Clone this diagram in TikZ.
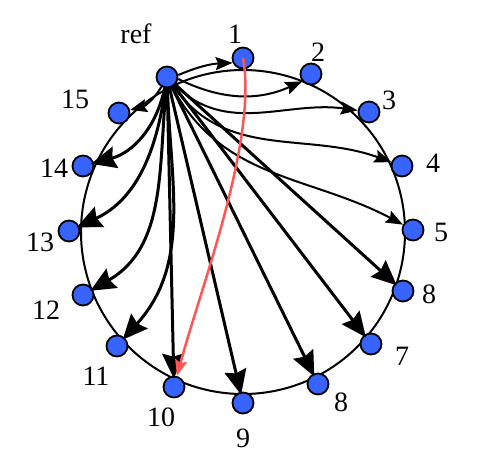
\documentclass[tikz,border=0pt]{standalone}
\usepackage{fontspec}
\setmainfont{Liberation Serif}
\usetikzlibrary{arrows.meta}
\definecolor{nodeblue}{RGB}{55,100,255}
\definecolor{edgered}{RGB}{255,85,85}
\begin{document}
\begin{tikzpicture}[x=1pt,y=1pt,
  vtx/.style={circle,draw=black,line width=1.8pt,fill=nodeblue,minimum size=21pt,inner sep=0pt},
  lab/.style={inner sep=0pt,font=\fontsize{28}{32}\selectfont},
  tedge/.style={line width=2pt,-{Stealth[length=17pt,width=13pt,inset=2.5pt]}},
  bedge/.style={line width=3pt,-{Stealth[length=25pt,width=22pt,inset=3pt]},shorten >=-3pt},
  redge/.style={line width=2.5pt,draw=edgered,-{Stealth[length=16pt,width=12pt,inset=2.5pt]}}
]
\useasboundingbox (0,0) rectangle (481,-464);
\draw[line width=2pt] (243,-232) circle (162);

\node[vtx] (ref) at (167,-77) {};
\node[vtx] (n1) at (243,-58) {};
\node[vtx] (n2) at (311,-74) {};
\node[vtx] (n3) at (369,-112) {};
\node[vtx] (n4) at (402,-166) {};
\node[vtx] (n5) at (413,-230) {};
\node[vtx] (n8a) at (403,-291) {};
\node[vtx] (n7) at (371,-344) {};
\node[vtx] (n8b) at (318,-384) {};
\node[vtx] (n9) at (243,-403) {};
\node[vtx] (n10) at (174,-387) {};
\node[vtx] (n11) at (117,-346) {};
\node[vtx] (n12) at (83,-295) {};
\node[vtx] (n13) at (69,-231) {};
\node[vtx] (n14) at (83,-166) {};
\node[vtx] (n15) at (119,-113) {};

\node[lab] (lref) at (136,-34) {ref};
\node[lab] (l1) at (235,-34) {1};
\node[lab] (l2) at (318,-52) {2};
\node[lab] (l3) at (389,-100) {3};
\node[lab] (l4) at (433,-163) {4};
\node[lab] (l5) at (441,-232) {5};
\node[lab] (l8a) at (429,-294) {8};
\node[lab] (l7) at (402,-356) {7};
\node[lab] (l8b) at (341,-402) {8};
\node[lab] (l9) at (243,-438) {9};
\node[lab] (l10) at (161,-417) {10};
\node[lab] (l11) at (96,-376) {11};
\node[lab] (l12) at (46,-310) {12};
\node[lab] (l13) at (40,-242) {13};
\node[lab] (l14) at (54,-168) {14};
\node[lab] (l15) at (75,-99) {15};

\draw[tedge] (ref.10) to[bend left=10] (n1.205);
\draw[tedge] (ref.-10) to[bend right=25] (n2.220);
\draw[tedge] (ref) to[out=-45,in=172] (n3);
\draw[tedge] (ref) to[out=-55,in=160] (n4);
\draw[tedge] (ref) to[out=-62,in=152] (n5);
\draw[bedge] (ref) -- (n8a);
\draw[bedge] (ref) -- (n7);
\draw[bedge] (ref) -- (n8b);
\draw[bedge] (ref) -- (n9);
\draw[bedge] (ref) -- (n10);
\draw[bedge] (ref) to[out=-88,in=48] (n11);
\draw[bedge] (ref) to[out=-95,in=30] (n12);
\draw[bedge] (ref) to[out=-98,in=25] (n13);
\draw[bedge] (ref) to[out=-102,in=15] (n14);
\draw[tedge] (ref) to[out=-120,in=15] (n15);
\draw[redge] (n1.center) .. controls (258,-140) and (200,-290) .. (n10);
\end{tikzpicture}
\end{document}
